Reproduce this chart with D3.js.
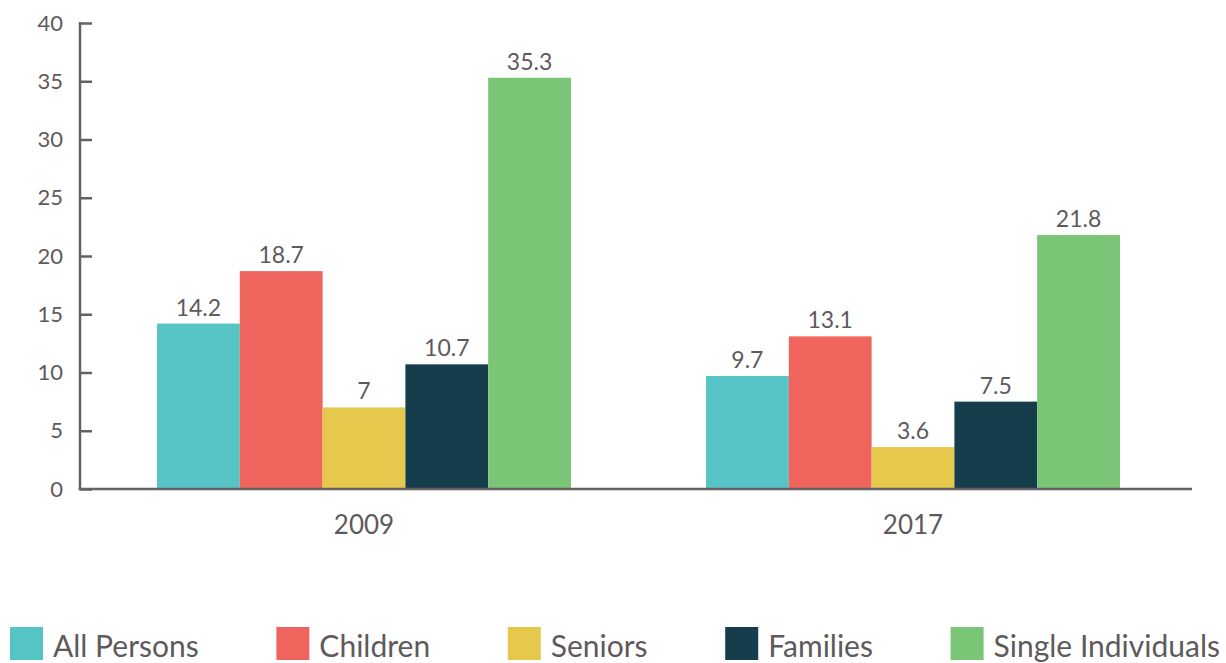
<!DOCTYPE html>
<html>
<head>
<meta charset="utf-8">
<script src="https://cdn.jsdelivr.net/npm/d3@7"></script>
<style>
  html, body { margin: 0; padding: 0; background: #fff; }
  svg { display: block; font-family: Lato, "Open Sans", sans-serif; }
</style>
</head>
<body>
<svg id="chart" width="1226" height="663"></svg>
<script>
const years = ["2009", "2017"];
const seriesNames = ["All Persons", "Children", "Seniors", "Families", "Single Individuals"];
const seriesColors = ["#56c4c5", "#ef645c", "#e5c84c", "#163d4b", "#7bc577"];
const values2009 = [14.2, 18.7, 7, 10.7, 35.3];
const values2017 = [9.7, 13.1, 3.6, 7.5, 21.8];
const yTicks = [0, 5, 10, 15, 20, 25, 30, 35, 40];

(function () {
const valuesByYear = { "2009": values2009, "2017": values2017 };
const textColor = "#5e5a5c";
const axisColor = "#666264";

const svg = d3.select("#chart");
const plotLeft = 80, plotRight = 1192, plotTop = 23, plotBottom = 489;

const y = d3.scaleLinear().domain([0, 40]).range([plotBottom, plotTop]);
const x0 = d3.scaleBand().domain(years).range([89.5, 1187.5]).paddingInner(0.246).paddingOuter(0.123);
const x1 = d3.scaleBand().domain(seriesNames).range([0, x0.bandwidth()]).padding(0);
const color = d3.scaleOrdinal().domain(seriesNames).range(seriesColors);

// bars
const groups = svg.append("g").selectAll("g").data(years).join("g")
  .attr("transform", d => `translate(${x0(d)},0)`);

groups.selectAll("rect")
  .data(yr => seriesNames.map((s, i) => ({ s, v: valuesByYear[yr][i] })))
  .join("rect")
  .attr("x", d => x1(d.s))
  .attr("width", x1.bandwidth())
  .attr("y", d => y(d.v))
  .attr("height", d => y(0) - y(d.v))
  .attr("fill", d => color(d.s));

groups.selectAll("text.val")
  .data(yr => seriesNames.map((s, i) => ({ s, v: valuesByYear[yr][i] })))
  .join("text")
  .attr("class", "val")
  .attr("x", d => x1(d.s) + x1.bandwidth() / 2)
  .attr("y", d => y(d.v) - 8)
  .attr("text-anchor", "middle")
  .attr("font-size", 23)
  .attr("fill", textColor)
  .text(d => d.v);

// y axis
const yAxis = d3.axisRight(y).tickValues(yTicks).tickSize(12).tickFormat(d3.format("d"));
const yg = svg.append("g").attr("transform", `translate(${plotLeft},0)`).call(yAxis);
yg.select(".domain").remove();
yg.selectAll(".tick line").attr("stroke", axisColor).attr("stroke-width", 2.5);
yg.selectAll(".tick text")
  .attr("x", -17).attr("text-anchor", "end")
  .attr("font-size", 22).attr("font-family", "Lato, sans-serif")
  .attr("fill", textColor);
svg.append("line")
  .attr("x1", plotLeft).attr("x2", plotLeft)
  .attr("y1", y(40) - 1).attr("y2", y(0) + 1.25)
  .attr("stroke", axisColor).attr("stroke-width", 2.5);

// x axis
svg.append("line")
  .attr("x1", plotLeft - 1.25).attr("x2", plotRight)
  .attr("y1", y(0)).attr("y2", y(0))
  .attr("stroke", axisColor).attr("stroke-width", 2.5);

const xAxis = d3.axisBottom(x0).tickSize(0).tickPadding(0);
const xg = svg.append("g").attr("transform", `translate(0,${plotBottom})`).call(xAxis);
xg.select(".domain").remove();
xg.selectAll(".tick text")
  .attr("dy", 0).attr("y", 45)
  .attr("font-size", 26).attr("font-family", "Lato, sans-serif")
  .attr("fill", textColor);

// legend
const legend = svg.append("g");
const items = legend.selectAll("g").data(seriesNames).join("g");
items.append("rect")
  .attr("width", 33).attr("height", 33)
  .attr("y", 627)
  .attr("fill", d => color(d));
items.append("text")
  .attr("x", 43)
  .attr("y", 657)
  .attr("font-size", 30)
  .attr("fill", textColor)
  .text(d => d);

const widths = [];
items.each(function () {
  widths.push(43 + this.querySelector("text").getComputedTextLength());
});
const legendStart = 10, legendEnd = 1220;
const totalW = d3.sum(widths);
const gap = (legendEnd - legendStart - totalW) / (seriesNames.length - 1);
let cx = legendStart;
items.each(function (d, i) {
  d3.select(this).attr("transform", `translate(${cx},0)`);
  cx += widths[i] + gap;
});
})();
</script>
</body>
</html>
